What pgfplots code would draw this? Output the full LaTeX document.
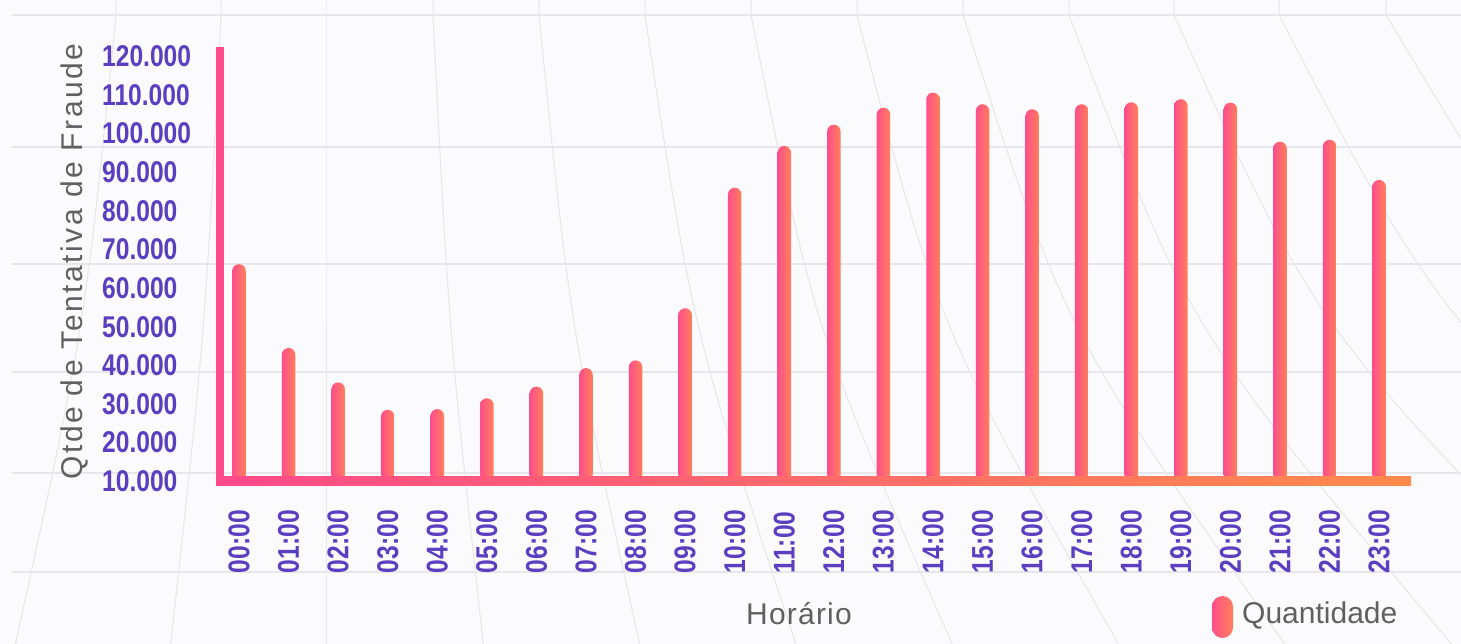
\documentclass[border=0pt]{standalone}
\usepackage{fontspec}
\usepackage{pgfplots}
\usepackage{pgfplotstable}
\pgfplotsset{compat=1.18}
\setmainfont{Liberation Sans}
\newfontfamily\tickfont[FakeStretch=0.82]{Liberation Sans}
\newfontfamily\ylabfont[LetterSpace=8.5]{Liberation Sans}
\newfontfamily\xlabfont[LetterSpace=4]{Liberation Sans}

\definecolor{bgc}{HTML}{FBFBFD}
\definecolor{gridc}{HTML}{E6E6EB}
\definecolor{barpink}{HTML}{FF4E8C}
\definecolor{barorange}{HTML}{FF805A}
\definecolor{axpink}{HTML}{FF4A8A}
\definecolor{axorange}{HTML}{FF8A4C}
\definecolor{tickc}{HTML}{5B3FC0}
\definecolor{grayc}{HTML}{606060}

% hour index, attempts
\pgfplotstableread{
h   qtd
0   66200
1   44500
2   35600
3   28500
4   28700
5   31500
6   34500
7   39300
8   41300
9   54800
10  86000
11  96800
12  102300
13  106700
14  110600
15  107600
16  106300
17  107600
18  108100
19  108900
20  108000
21  97900
22  98400
23  88000
}\fraude

\begin{document}
\begin{tikzpicture}[x=1pt,y=1pt]
\useasboundingbox (0,0) rectangle (1461,644);
\fill[bgc] (0,0) rectangle (1461,644);
% faint background grid
\begin{scope}
  \clip (0,0) rectangle (1461,644);
  \foreach \yy in {15,147,264,372,473,572}
    \draw[gridc, line width=1.2] (12,644-\yy) -- (1461,644-\yy);
  \foreach \xx/\s in {116/-0.1, 221/-0.05, 326/0, 433/0.05, 539/0.1, 645/0.15,
                      751/0.2, 857/0.26, 963/0.32, 1069/0.38, 1174/0.45, 1279/0.52, 1386/0.6}
    \draw[gridc, line width=1] (\xx,644) -- (\xx,629) .. controls (\xx+\s*315,314) .. (\xx+\s*1006,0);
\end{scope}

\begin{axis}[
    at={(220pt,162.7pt)}, anchor=south west,
    scale only axis,
    width=1191pt, height=434.3pt,
    xmin=-0.3833, xmax=23.643,
    ymin=10000, ymax=122410,
    axis line style={draw=none},
    major tick length=0pt,
    scaled y ticks=false,
    xtick={0,...,23},
    xticklabels={00:00,01:00,02:00,03:00,04:00,05:00,06:00,07:00,08:00,09:00,10:00,11:00,
                 12:00,13:00,14:00,15:00,16:00,17:00,18:00,19:00,20:00,21:00,22:00,23:00},
    ytick={10000,20000,...,120000},
    yticklabels={10.000,20.000,30.000,40.000,50.000,60.000,70.000,80.000,90.000,100.000,110.000,120.000},
    ticklabel style={font=\tickfont\bfseries\fontsize{30}{30}\selectfont, text=tickc, inner sep=0pt},
    yticklabel style={anchor=west, xshift=-118pt},
    xticklabel style={yshift=-92pt, rotate=90, anchor=west},
  ]
  % one plot per bar so that every bar gets its own gradient
  \pgfplotsinvokeforeach{0,...,23}{
    \addplot[ybar, bar width=13.5pt, draw=none,
             left color=barpink, right color=barorange,
             rounded corners=6.75pt,
             x filter/.expression={abs(x-#1)<0.2 ? x : nan}]
      table[x=h, y=qtd] {\fraude};
  }
\end{axis}

% axis lines
\shade[left color=axpink, right color=axorange] (216,158) rectangle (1411,167.3);
\fill[axpink] (216,158) rectangle (224,597);

% titles
\node[rotate=90, font=\ylabfont\fontsize{30}{30}\selectfont, text=grayc] at (74,382.5) {Qtde de Tentativa de Fraude};
\node[anchor=base, font=\xlabfont\fontsize{30}{30}\selectfont, text=grayc] at (799,19) {Horário};

% legend
\shade[left color=barpink, right color=barorange, rounded corners=10.5pt] (1212,6) rectangle (1233,48);
\node[anchor=base west, inner sep=0pt, font=\fontsize{30}{30}\selectfont, text=grayc] at (1242,20) {Quantidade};
\end{tikzpicture}
\end{document}
